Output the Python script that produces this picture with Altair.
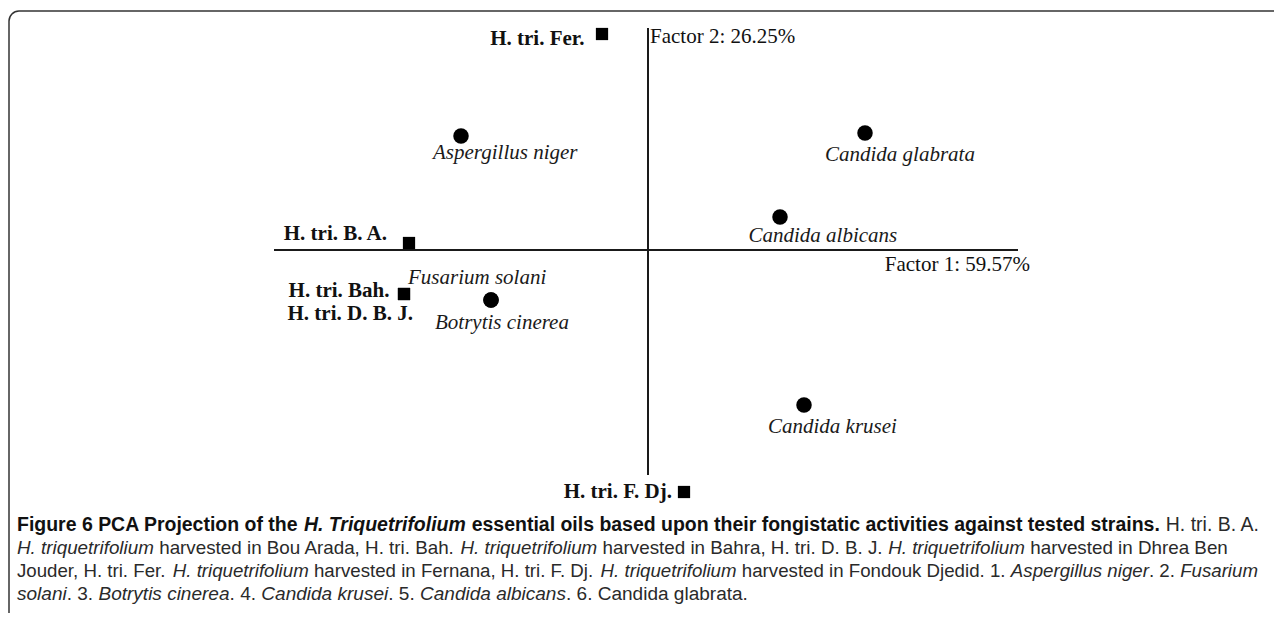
import altair as alt
import pandas as pd

# ---------------- data ----------------
strain_names = ["Aspergillus niger", "Fusarium solani", "Botrytis cinerea",
                "Candida krusei", "Candida albicans", "Candida glabrata"]
strain_f1 = [-1.87, -1.57, -1.57, 1.56, 1.32, 2.17]
strain_f2 = [1.14, -0.50, -0.50, -1.55, 0.33, 1.17]

oil_names = ["H. tri. B. A.", "H. tri. Bah.", "H. tri. D. B. J.", "H. tri. Fer.", "H. tri. F. Dj."]
oil_f1 = [-2.39, -2.44, -2.44, -0.46, 0.36]
oil_f2 = [0.07, -0.44, -0.44, 2.16, -2.42]

axis_titles = ["Factor 1: 59.57%", "Factor 2: 26.25%"]
# extent of the drawn axis lines (factor units)
f1_axis_extent = [-3.74, 3.70]
f2_axis_extent = [-2.25, 2.22]

caption_lines = [
    [("b", "Figure 6 PCA Projection of the "), ("bi", "H. Triquetrifolium"),
     ("b", " essential oils based upon their fongistatic activities against tested strains."),
     ("r", " H. tri. B. A.")],
    [("i", "H. triquetrifolium"), ("r", " harvested in Bou Arada, H. tri. Bah. "),
     ("i", "H. triquetrifolium"), ("r", " harvested in Bahra, H. tri. D. B. J. "),
     ("i", "H. triquetrifolium"), ("r", " harvested in Dhrea Ben")],
    [("r", "Jouder, H. tri. Fer. "), ("i", "H. triquetrifolium"),
     ("r", " harvested in Fernana, H. tri. F. Dj. "), ("i", "H. triquetrifolium"),
     ("r", " harvested in Fondouk Djedid. 1. "), ("i", "Aspergillus niger"),
     ("r", ". 2. "), ("i", "Fusarium")],
    [("i", "solani"), ("r", ". 3. "), ("i", "Botrytis cinerea"), ("r", ". 4. "),
     ("i", "Candida krusei"), ("r", ". 5. "), ("i", "Candida albicans"),
     ("r", ". 6. Candida glabrata.")],
]

# ---------------- layout ----------------
W, H = 1266, 605
xs = alt.Scale(domain=[-6.40, 6.26], nice=False, zero=False)
ys = alt.Scale(domain=[-3.63, 2.42], nice=False, zero=False)
SERIF = "Liberation Serif"
SANS = "Liberation Sans"
INK = "#111111"
FRAME = "#333333"

strain_label_pos = {  # dx, dy (px) of the label's left baseline point
    "Aspergillus niger": (-28, 22.5),
    "Fusarium solani": (-83, -16.5),
    "Botrytis cinerea": (-56, 28.5),
    "Candida krusei": (-36, 28),
    "Candida albicans": (-31.5, 24.5),
    "Candida glabrata": (-40, 28),
}
oil_label_pos = {  # align, dx, dy
    "H. tri. B. A.": ("right", -22, -3.5),
    "H. tri. Bah.": ("right", -14.5, 2.5),
    "H. tri. D. B. J.": ("left", -116.5, 25.5),
    "H. tri. Fer.": ("right", -17.5, 10.5),
    "H. tri. F. Dj.": ("right", -12, 6),
}

layers = []
one = pd.DataFrame({"k": [0]})

# frame: top line, left line and a rounded top-left corner
layers.append(alt.Chart(one).mark_rule(color=FRAME, strokeWidth=1.5).encode(
    x=alt.value(11), x2=alt.value(W + 20), y=alt.value(3)))
layers.append(alt.Chart(one).mark_rule(color=FRAME, strokeWidth=1.5).encode(
    x=alt.value(1), y=alt.value(13), y2=alt.value(H + 20)))
layers.append(alt.Chart(one).mark_arc(color=FRAME).encode(
    x=alt.value(11), y=alt.value(13),
    theta=alt.value(4.712389), theta2=alt.value(6.283185),
    radius=alt.value(9.25), radius2=alt.value(10.75)))

# axis lines
axes_df = pd.DataFrame({
    "x": [f1_axis_extent[0], 0.0], "x2": [f1_axis_extent[1], 0.0],
    "y": [0.0, f2_axis_extent[0]], "y2": [0.0, f2_axis_extent[1]],
})
layers.append(alt.Chart(axes_df).mark_rule(color="#1a1a1a", strokeWidth=2).encode(
    x=alt.X("x:Q", scale=xs, axis=None), x2="x2:Q",
    y=alt.Y("y:Q", scale=ys, axis=None), y2="y2:Q",
))

strain_df = pd.DataFrame({"name": strain_names, "f1": strain_f1, "f2": strain_f2})
oil_df = pd.DataFrame({"name": oil_names, "f1": oil_f1, "f2": oil_f2})

layers.append(alt.Chart(strain_df).mark_point(
    filled=True, shape="circle", size=240, color="black", opacity=1
).encode(x=alt.X("f1:Q", scale=xs, axis=None), y=alt.Y("f2:Q", scale=ys, axis=None)))

layers.append(alt.Chart(oil_df).mark_point(
    filled=True, shape="square", size=150, color="black", opacity=1
).encode(x=alt.X("f1:Q", scale=xs, axis=None), y=alt.Y("f2:Q", scale=ys, axis=None)))

for name, (dx, dy) in strain_label_pos.items():
    sub = strain_df[strain_df["name"] == name]
    layers.append(alt.Chart(sub).mark_text(
        align="left", baseline="alphabetic", dx=dx, dy=dy,
        font=SERIF, fontStyle="italic", fontSize=21, color="#1a1a1a"
    ).encode(x=alt.X("f1:Q", scale=xs, axis=None), y=alt.Y("f2:Q", scale=ys, axis=None),
             text="name:N"))

for name, (al, dx, dy) in oil_label_pos.items():
    sub = oil_df[oil_df["name"] == name]
    layers.append(alt.Chart(sub).mark_text(
        align=al, baseline="alphabetic", dx=dx, dy=dy,
        font=SERIF, fontWeight="bold", fontSize=21, color=INK
    ).encode(x=alt.X("f1:Q", scale=xs, axis=None), y=alt.Y("f2:Q", scale=ys, axis=None),
             text="name:N"))

# axis titles
t1 = pd.DataFrame({"t": [axis_titles[0]], "x": [f1_axis_extent[1]], "y": [0.0]})
t2 = pd.DataFrame({"t": [axis_titles[1]], "x": [0.0], "y": [f2_axis_extent[1]]})
layers.append(alt.Chart(t1).mark_text(
    align="right", baseline="alphabetic", dx=12, dy=21, font=SERIF, fontSize=21, color=INK
).encode(x=alt.X("x:Q", scale=xs, axis=None), y=alt.Y("y:Q", scale=ys, axis=None), text="t:N"))
layers.append(alt.Chart(t2).mark_text(
    align="left", baseline="alphabetic", dx=2, dy=15, font=SERIF, fontSize=21, color=INK
).encode(x=alt.X("x:Q", scale=xs, axis=None), y=alt.Y("y:Q", scale=ys, axis=None), text="t:N"))

# ---------------- caption (Arial/Liberation Sans metrics) ----------------
REG = dict(zip("abcdefghijklmnopqrstuvwxyz",
               [556, 556, 500, 556, 556, 278, 556, 556, 222, 222, 500, 222, 833,
                556, 556, 556, 556, 333, 500, 278, 556, 500, 722, 500, 500, 500]))
REG.update(zip("ABCDEFGHIJKLMNOPQRSTUVWXYZ",
               [667, 667, 722, 722, 667, 611, 778, 722, 278, 500, 667, 556, 833,
                722, 778, 667, 778, 722, 667, 611, 722, 667, 944, 667, 667, 611]))
BLD = dict(zip("abcdefghijklmnopqrstuvwxyz",
               [556, 611, 556, 611, 556, 333, 611, 611, 278, 278, 556, 278, 889,
                611, 611, 611, 611, 389, 556, 333, 611, 556, 778, 556, 556, 500]))
BLD.update(zip("ABCDEFGHIJKLMNOPQRSTUVWXYZ",
               [722, 722, 722, 722, 667, 611, 778, 722, 278, 556, 722, 611, 833,
                722, 778, 667, 778, 722, 667, 611, 722, 667, 944, 667, 667, 611]))
for tbl in (REG, BLD):
    tbl.update({" ": 278, ".": 278, ",": 278, ":": 278, "%": 889})
    tbl.update({d: 556 for d in "0123456789"})


def em(text, style):
    tbl = BLD if "b" in style else REG
    return sum(tbl.get(c, 556) for c in text) / 1000.0


CAP_X0 = 9
line_ends = [1252, 1220, 1250, 740]   # where each caption line ends (chart px)
baselines = [523, 546, 569, 592]

for li, line in enumerate(caption_lines):
    line_em = sum(em(t, s) for s, t in line)
    fs = (line_ends[li] - CAP_X0) / line_em
    cursor = CAP_X0
    for style, text in line:
        lead = len(text) - len(text.lstrip(" "))
        x0 = cursor + em(text[:lead], style) * fs
        cursor += em(text, style) * fs
        seg = pd.DataFrame({"t": [text.strip()]})
        layers.append(alt.Chart(seg).mark_text(
            align="left", baseline="alphabetic", font=SANS, fontSize=fs,
            fontWeight="bold" if "b" in style else "normal",
            fontStyle="italic" if "i" in style else "normal",
            color="#111111" if "b" in style else "#2a2a2a",
        ).encode(x=alt.value(x0), y=alt.value(baselines[li]), text="t:N"))

chart = alt.layer(*layers).properties(
    width=W, height=H, autosize=alt.AutoSizeParams(type="none"), padding=0,
    background="white",
).configure_view(stroke="transparent", strokeWidth=0)

chart.save("out.html", embed_options={"renderer": "svg", "actions": False})
